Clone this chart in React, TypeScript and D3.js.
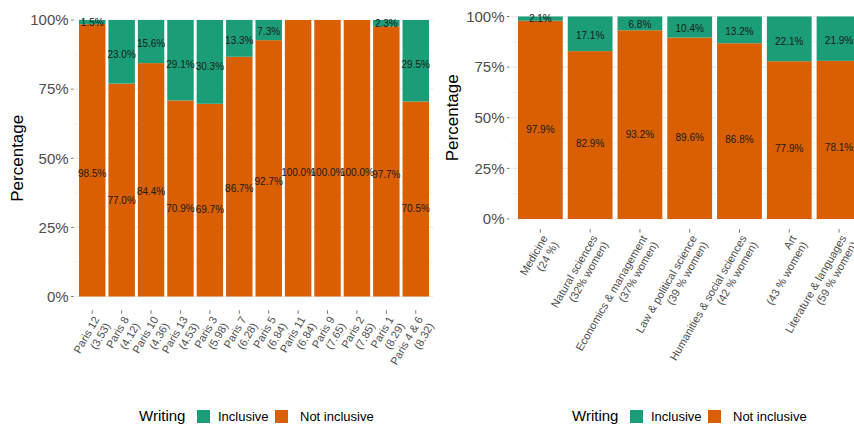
import React from 'react';
import * as d3 from 'd3';

const parisCategories = [
  'Paris 12\n(3.53)', 'Paris 8\n(4.12)', 'Paris 10\n(4.36)', 'Paris 13\n(4.53)',
  'Paris 3\n(5.98)', 'Paris 7\n(6.28)', 'Paris 5\n(6.84)', 'Paris 11\n(6.84)',
  'Paris 9\n(7.65)', 'Paris 2\n(7.85)', 'Paris 1\n(8.29)', 'Paris 4 & 6\n(8.32)',
];
const parisInclusive = [1.5, 23.0, 15.6, 29.1, 30.3, 13.3, 7.3, 0, 0, 0, 2.3, 29.5];
const parisNotInclusive = [98.5, 77.0, 84.4, 70.9, 69.7, 86.7, 92.7, 100, 100, 100, 97.7, 70.5];

const fieldCategories = [
  'Medicine\n(24 %)',
  'Natural sciences\n(32% women)',
  'Economics & management\n(37% women)',
  'Law & political science\n(39 % women)',
  'Humanities & social sciences\n(42 % women)',
  'Art\n(43 % women)',
  'Literature & languages\n(59 % women)',
];
const fieldInclusive = [2.1, 17.1, 6.8, 10.4, 13.2, 22.1, 21.9];
const fieldNotInclusive = [97.9, 82.9, 93.2, 89.6, 86.8, 77.9, 78.1];

const yTicks = [0, 25, 50, 75, 100];
const yMinorTicks = [12.5, 37.5, 62.5, 87.5];
const seriesNames = ['Inclusive', 'Not inclusive'];
const legendTitle = 'Writing';
const yTitle = 'Percentage';

const COLORS: Record<string, string> = { Inclusive: '#1B9E77', 'Not inclusive': '#D95F02' };
const FONT = '"Liberation Sans", Arial, Helvetica, sans-serif';

type PanelProps = {
  categories: string[];
  inclusive: number[];
  notInclusive: number[];
  panelLeft: number;
  panelRight: number;
  y0: number;
  y100: number;
  titleX: number;
  legendX: number;
};

function Panel(p: PanelProps) {
  const x = d3.scaleBand<string>().domain(p.categories).range([p.panelLeft, p.panelRight])
    .paddingInner(0.1).paddingOuter(0.15);
  const y = d3.scaleLinear().domain([0, 100]).range([p.y0, p.y100]);
  const span = p.y0 - p.y100;
  const panelBottom = p.y0 + span * 0.05;
  const panelTop = p.y100 - span * 0.05;
  const fmt = d3.format('.1f');
  const bw = x.bandwidth();
  return (
    <g>
      {yMinorTicks.map((t) => (
        <line key={'mi' + t} x1={p.panelLeft} x2={p.panelRight} y1={y(t)} y2={y(t)} stroke="#EBEBEB" strokeWidth={0.6} />
      ))}
      {yTicks.map((t) => (
        <line key={'ma' + t} x1={p.panelLeft} x2={p.panelRight} y1={y(t)} y2={y(t)} stroke="#EBEBEB" strokeWidth={1.1} />
      ))}
      {p.categories.map((c, i) => {
        const x0 = x(c)!;
        const ni = p.notInclusive[i];
        const inc = p.inclusive[i];
        return (
          <g key={c}>
            <rect x={x0} width={bw} y={y(ni)} height={y(0) - y(ni)} fill={COLORS['Not inclusive']} />
            {inc > 0 && (
              <rect x={x0} width={bw} y={y(ni + inc)} height={y(ni) - y(ni + inc)} fill={COLORS['Inclusive']} />
            )}
          </g>
        );
      })}
      {p.categories.map((c, i) => {
        const cx = x(c)! + bw / 2;
        const ni = p.notInclusive[i];
        const inc = p.inclusive[i];
        return (
          <g key={'lab' + c} fontFamily={FONT} fontSize={10} fill="#1a1a1a" textAnchor="middle">
            <text x={cx} y={y(ni - 0.55 * ni)} dy="0.35em">{fmt(ni) + '%'}</text>
            {inc > 0 && <text x={cx} y={y(ni + inc - 0.55 * inc)} dy="0.35em">{fmt(inc) + '%'}</text>}
          </g>
        );
      })}
      {yTicks.map((t) => (
        <g key={'yt' + t}>
          <line x1={p.panelLeft - 3.5} x2={p.panelLeft - 1} y1={y(t)} y2={y(t)} stroke="#555" strokeWidth={0.8} />
          <text x={p.panelLeft - 6} y={y(t)} dy="0.35em" textAnchor="end" fontFamily={FONT} fontSize={15} fill="#4D4D4D">
            {t + '%'}
          </text>
        </g>
      ))}
      {p.categories.map((c) => {
        const cx = x(c)! + bw / 2;
        const lines = c.split('\n');
        return (
          <g key={'xt' + c}>
            <line x1={cx} x2={cx} y1={panelBottom} y2={panelBottom + 3.5} stroke="#555" strokeWidth={0.8} />
            <g transform={`translate(${cx},${panelBottom + 4.5}) rotate(-60)`}>
              {lines.map((l, k) => (
                <text key={k} x={0} y={8.8 + k * 12.5} textAnchor="end" fontFamily={FONT} fontSize={11} fill="#4D4D4D">
                  {l}
                </text>
              ))}
            </g>
          </g>
        );
      })}
      <text
        transform={`translate(${p.titleX},${(panelTop + panelBottom) / 2}) rotate(-90)`}
        textAnchor="middle" dy="0.35em" fontFamily={FONT} fontSize={17} fill="#000"
      >
        {yTitle}
      </text>
      <g fontFamily={FONT}>
        <text x={p.legendX} y={421} fontSize={15} fill="#000">{legendTitle}</text>
        {seriesNames.map((s, k) => {
          const sx = p.legendX + [58, 136][k];
          return (
            <g key={s}>
              <rect x={sx} y={410} width={13} height={13} fill={COLORS[s]} />
              <text x={sx + [21, 25][k]} y={421} fontSize={13} fill="#000">{s}</text>
            </g>
          );
        })}
      </g>
    </g>
  );
}

export default function App() {
  return (
    <svg width={854} height={426} style={{ position: 'absolute', left: 0, top: 0, background: '#fff' }}>
      <rect width={854} height={426} fill="#fff" />
      <Panel
        categories={parisCategories}
        inclusive={parisInclusive}
        notInclusive={parisNotInclusive}
        panelLeft={74.6}
        panelRight={433.4}
        y0={296.5}
        y100={20}
        titleX={17}
        legendX={139}
      />
      <Panel
        categories={fieldCategories}
        inclusive={fieldInclusive}
        notInclusive={fieldNotInclusive}
        panelLeft={510.5}
        panelRight={868.9}
        y0={219}
        y100={16.5}
        titleX={452}
        legendX={572}
      />
    </svg>
  );
}
